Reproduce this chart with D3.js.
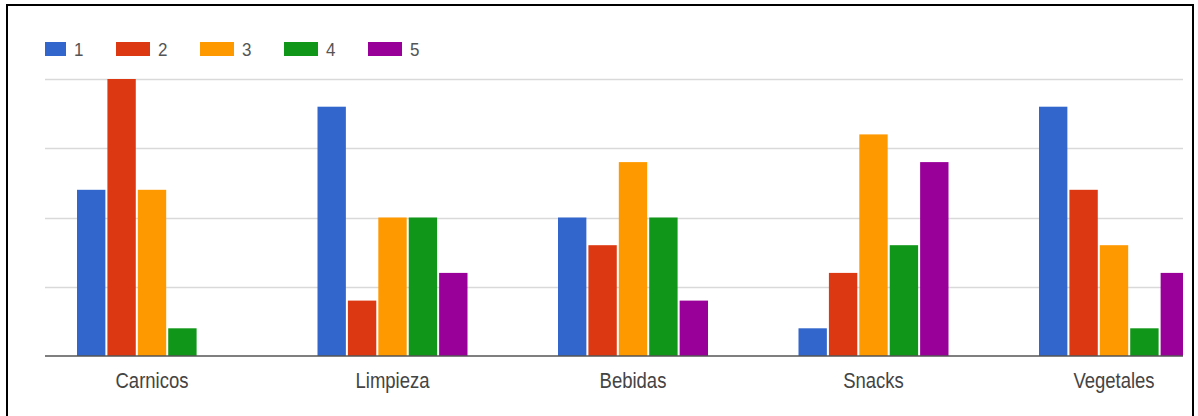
<!DOCTYPE html>
<html>
<head>
<meta charset="utf-8">
<script src="https://cdn.jsdelivr.net/npm/d3@7"></script>
<style>
  html, body { margin: 0; padding: 0; background: #fff; }
  svg { display: block; font-family: Arial, "Liberation Sans", sans-serif; }
</style>
</head>
<body>
<svg id="chart" width="1198" height="416"></svg>
<script>
const categories = ["Carnicos", "Limpieza", "Bebidas", "Snacks", "Vegetales"];
const seriesNames = ["1", "2", "3", "4", "5"];
const s1 = [6, 9, 5, 1, 9];
const s2 = [10, 2, 4, 3, 6];
const s3 = [6, 5, 7, 8, 4];
const s4 = [1, 5, 5, 4, 1];
const s5 = [0, 3, 2, 7, 3];
const gridTicks = [0, 2.5, 5, 7.5, 10];
const colors = ["#3366cc", "#dc3912", "#ff9900", "#109618", "#990099"];

const series = [s1, s2, s3, s4, s5];
const svg = d3.select("#chart");

// frame
svg.append("rect").attr("x", 7).attr("y", 5).attr("width", 1186).attr("height", 430)
  .attr("fill", "none").attr("stroke", "#000").attr("stroke-width", 2);

const plotLeft = 45, plotRight = 1183, plotTop = 79, plotBottom = 356;

const y = d3.scaleLinear().domain([0, 10]).range([plotBottom, plotTop]);
const pi = 0.3763;
const x0 = d3.scaleBand().domain(categories)
  .range([31.75, 1234.25]).paddingInner(pi).paddingOuter(pi / 2);
const x1 = d3.scaleBand().domain(seriesNames).range([0, x0.bandwidth()]).paddingInner(0.067);

// gridlines
svg.append("g").selectAll("line").data(gridTicks.filter(t => t > 0)).join("line")
  .attr("x1", plotLeft).attr("x2", plotRight)
  .attr("y1", d => Math.round(y(d)) + 0.5).attr("y2", d => Math.round(y(d)) + 0.5)
  .attr("stroke", "#d9d9d9").attr("stroke-width", 1.5);

svg.append("clipPath").attr("id", "clip").append("rect")
  .attr("x", plotLeft).attr("y", 0).attr("width", plotRight - plotLeft).attr("height", plotBottom + 1);

const groups = svg.append("g").attr("clip-path", "url(#clip)")
  .selectAll("g").data(categories).join("g")
  .attr("transform", d => `translate(${x0(d)},0)`);

groups.selectAll("rect").data((c, ci) => seriesNames.map((s, si) => ({ s, si, v: series[si][ci] })))
  .join("rect")
  .attr("x", d => x1(d.s))
  .attr("width", x1.bandwidth())
  .attr("y", d => y(d.v))
  .attr("height", d => y(0) - y(d.v))
  .attr("fill", d => colors[d.si]);

// baseline
svg.append("line").attr("x1", plotLeft).attr("x2", plotRight)
  .attr("y1", y(0)).attr("y2", y(0)).attr("stroke", "#555").attr("stroke-width", 1.5);

// x axis labels
const labels = svg.append("g").selectAll("text").data(categories).join("text")
  .attr("transform", d => `translate(${x0(d) + x0.bandwidth() / 2},388) scale(1,1.2)`)
  .attr("text-anchor", "middle")
  .attr("font-size", 18.5).attr("fill", "#444")
  .text(d => d);

// legend
svg.append("clipPath").attr("id", "legclip").append("rect")
  .attr("x", 45).attr("y", 0).attr("width", 1100).attr("height", 79);
const legendX = d3.scaleLinear().domain([0, 4]).range([32, 368]);
const leg = svg.append("g").attr("clip-path", "url(#legclip)")
  .selectAll("g").data(seriesNames).join("g");
leg.append("rect")
  .attr("x", (d, i) => legendX(i))
  .attr("y", 42).attr("height", 14).attr("width", 34)
  .attr("fill", (d, i) => colors[i]);
leg.append("text")
  .attr("transform", (d, i) => `translate(${legendX(i) + 42},56) scale(1,1.1)`)
  .attr("font-size", 17).attr("fill", "#555").text(d => d);
</script>
</body>
</html>
